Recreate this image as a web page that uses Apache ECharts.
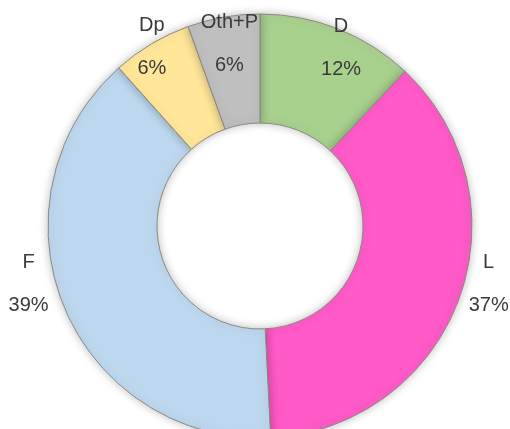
<!DOCTYPE html>
<html lang="en">
<head>
  <meta charset="UTF-8">
  <title>Donut</title>
  <script src="https://cdn.jsdelivr.net/npm/echarts@6/dist/echarts.min.js"></script>
  <style>
    html, body { margin: 0; padding: 0; background: #fff; }
  </style>
</head>
<body>
<div id="main" style="width:510px;height:429px;"></div>
<script type="text/javascript">
  // data (clockwise from 12 o'clock)
  var names = ['D', 'L', 'F', 'Dp', 'Oth+P'];
  var values = [12, 37.2, 39.2, 6.1, 5.5];
  var colors = ['#a9d18e', '#ff5ac8', '#bdd7ee', '#ffe699', '#bfbfbf'];

  // label nudges from the default 'inside' spot
  var labelOffset = [[22, -29], [78, 3], [-83, -3], [-26, -41], [-3, -24]];

  var myChart = echarts.init(document.getElementById('main'));

  var pieData = names.map(function (n, i) {
    return {
      name: n,
      value: values[i],
      itemStyle: { color: colors[i] },
      label: { offset: labelOffset[i] }
    };
  });

  myChart.setOption({
    animation: false,
    series: [{
      type: 'pie',
      center: [260, 226],
      radius: [103, 212],
      startAngle: 90,
      clockwise: true,
      avoidLabelOverlap: false,
      itemStyle: {
        borderColor: '#8a8a80',
        borderWidth: 1,
        shadowBlur: 10,
        shadowColor: 'rgba(0,0,0,0.25)'
      },
      label: {
        position: 'inside',
        formatter: function (p) {
          return p.name + '\n' + p.percent.toFixed(0) + '%';
        },
        fontFamily: 'Liberation Sans',
        fontSize: 20,
        lineHeight: 43,
        color: '#3a3a3a'
      },
      labelLine: { show: false },
      emphasis: { disabled: true },
      data: pieData
    }]
  });
</script>
</body>
</html>
